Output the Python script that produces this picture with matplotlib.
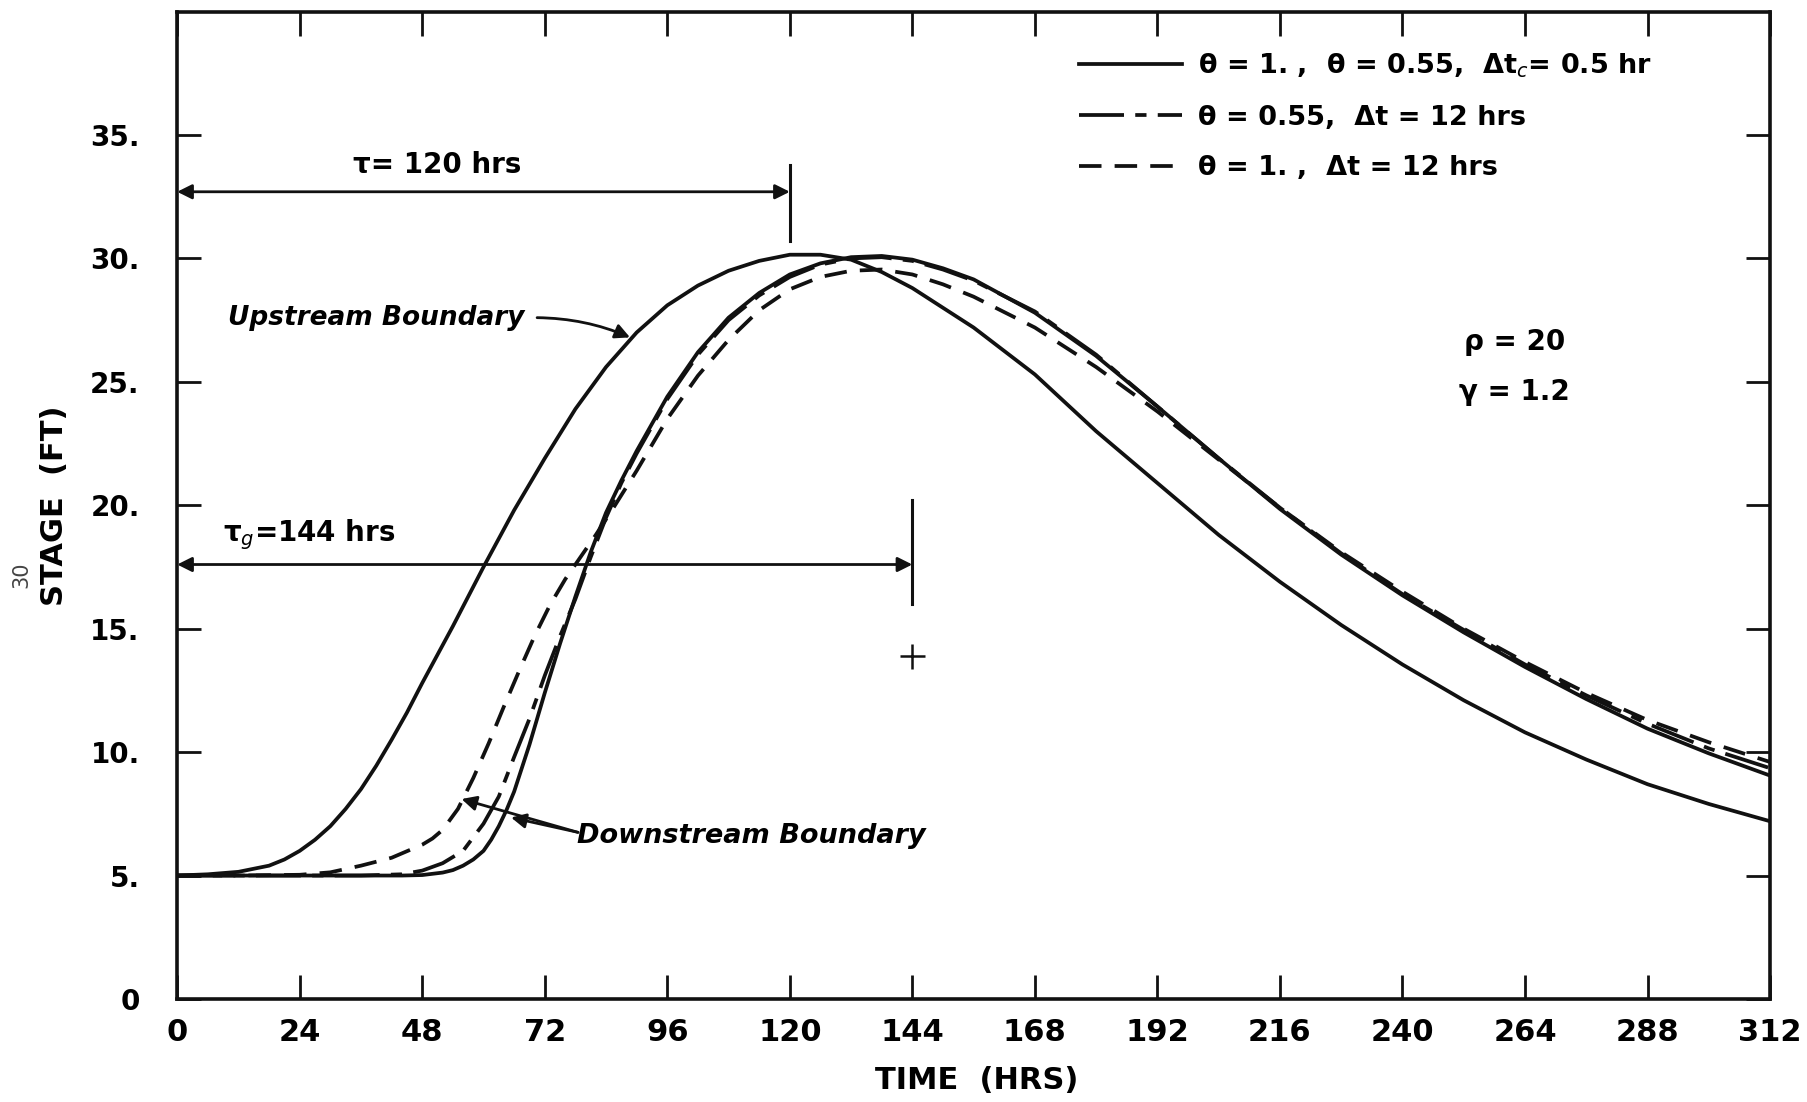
import numpy as np
import matplotlib.pyplot as plt

# stage hydrographs (time in hrs, stage in ft)
t_up = [0, 6, 12, 18, 21, 24, 27, 30, 33, 36, 39, 42, 45, 48, 54, 60, 66, 72, 78, 84,
        90, 96, 102, 108, 114, 120, 126, 132, 138, 144, 156, 168, 180, 192, 204, 216,
        228, 240, 252, 264, 276, 288, 300, 312]
stage_up = [5.0, 5.05, 5.15, 5.4, 5.65, 6.0, 6.45, 7.0, 7.7, 8.5, 9.45, 10.5, 11.6,
            12.8, 15.1, 17.5, 19.8, 21.9, 23.9, 25.6, 27.0, 28.1, 28.9, 29.5, 29.9,
            30.15, 30.15, 29.95, 29.45, 28.8, 27.2, 25.3, 23.0, 20.9, 18.8, 16.9,
            15.15, 13.55, 12.1, 10.8, 9.7, 8.7, 7.9, 7.2]

t_dn = [0, 12, 24, 36, 44, 48, 52, 54, 56, 58, 60, 61.5, 63, 64.5, 66, 69, 72, 75, 78,
        81, 84, 87, 90, 96, 102, 108, 114, 120, 126, 132, 138, 144, 150, 156, 168, 180,
        192, 204, 216, 228, 240, 252, 264, 276, 288, 300, 312]
stage_dn = [5.0, 5.0, 5.0, 5.0, 5.0, 5.02, 5.12, 5.22, 5.4, 5.65, 6.0, 6.45, 7.0, 7.65,
            8.4, 10.3, 12.4, 14.4, 16.3, 18.1, 19.7, 21.0, 22.2, 24.4, 26.2, 27.6, 28.6,
            29.35, 29.8, 30.05, 30.1, 29.95, 29.6, 29.15, 27.8, 26.05, 24.0, 21.9,
            19.85, 18.0, 16.35, 14.85, 13.45, 12.15, 10.95, 9.95, 9.05]

# theta = 0.55, dt = 12 hrs (dash-dot)
t_d55 = [0, 12, 24, 36, 44, 48, 52, 56, 60, 63, 66, 69, 72, 75, 78, 81, 84, 87, 90,
         96, 102, 108, 114, 120, 126, 132, 138, 144, 150, 156, 168, 180, 192, 204,
         216, 228, 240, 252, 264, 276, 288, 300, 312]
stage_d55 = [5.0, 5.0, 5.0, 5.0, 5.05, 5.2, 5.5, 6.0, 7.1, 8.2, 9.8, 11.35, 13.1, 14.7,
             16.2, 17.9, 19.5, 20.9, 22.1, 24.3, 26.1, 27.5, 28.5, 29.25, 29.75, 30.0,
             30.05, 29.9, 29.55, 29.1, 27.85, 26.1, 24.0, 21.9, 19.9, 18.05, 16.4,
             14.95, 13.55, 12.3, 11.15, 10.15, 9.35]

# theta = 1, dt = 12 hrs (dashed)
t_d1 = [0, 12, 24, 30, 36, 42, 48, 50, 52, 55, 58, 61, 64, 67, 70, 73, 76, 79, 82, 85,
        90, 96, 102, 108, 114, 120, 126, 132, 138, 144, 150, 156, 168, 180, 192, 204,
        216, 228, 240, 252, 264, 276, 288, 300, 312]
stage_d1 = [5.0, 5.0, 5.03, 5.13, 5.4, 5.72, 6.25, 6.5, 6.85, 7.7, 8.95, 10.35, 11.85,
            13.3, 14.7, 15.95, 17.0, 17.9, 18.8, 19.75, 21.4, 23.5, 25.25, 26.7, 27.9,
            28.75, 29.25, 29.5, 29.55, 29.35, 28.95, 28.45, 27.2, 25.6, 23.8, 21.85,
            19.9, 18.1, 16.5, 15.0, 13.65, 12.4, 11.3, 10.4, 9.6]

x_ticks = list(range(0, 313, 24))
y_ticks = [0, 5, 10, 15, 20, 25, 30, 35]
y_ticklabels = ['0', '5.', '10.', '15.', '20.', '25.', '30.', '35.']

tau = 120
tau_g = 144
tau_level = 32.7
tau_g_level = 17.6
plus_pt = (144, 13.9)

ink = '#111111'
lw = 2.7

fig = plt.figure(figsize=(18.08, 11.02), dpi=100)
ax = fig.add_axes([0.098, 0.0935, 0.881, 0.896])

l_c, = ax.plot(t_up, stage_up, color=ink, lw=lw,
               label='θ = 1. ,  θ = 0.55,  Δt$_c$= 0.5 hr')
ax.plot(t_dn, stage_dn, color=ink, lw=lw)
l55, = ax.plot(t_d55, stage_d55, color=ink, lw=lw, dashes=(12, 3, 3, 3),
               label='θ = 0.55,  Δt = 12 hrs')
l1, = ax.plot(t_d1, stage_d1, color=ink, lw=lw, dashes=(6, 3.5),
              label='θ = 1. ,  Δt = 12 hrs')

ax.set_xlim(0, 312)
ax.set_ylim(0, 40)
ax.set_xticks(x_ticks)
ax.set_xticklabels([str(v) for v in x_ticks], fontsize=22, fontweight='bold',
                   family='Liberation Sans Narrow')
ax.set_yticks(y_ticks)
ax.set_yticklabels(y_ticklabels, fontsize=20, fontweight='bold')
ax.tick_params(axis='both', direction='in', length=17, width=2, color=ink,
               top=True, right=True)
ax.tick_params(axis='x', pad=14)
ax.tick_params(axis='y', pad=27)
for s in ax.spines.values():
    s.set_linewidth(2.6)
    s.set_color(ink)

ax.set_xlabel('TIME  (HRS)', fontsize=22, fontweight='bold')
ax.xaxis.set_label_coords(0.502, -0.068)
ax.set_ylabel('STAGE  (FT)', fontsize=22, fontweight='bold')
ax.yaxis.set_label_coords(-0.068, 0.5)

# tau markers
arr = dict(arrowstyle='<|-|>', color=ink, lw=2, mutation_scale=22, shrinkA=0, shrinkB=0)
ax.annotate('', xy=(0, tau_level), xytext=(tau, tau_level), arrowprops=arr)
ax.plot([tau, tau], [30.7, 33.8], color=ink, lw=2.2)
ax.text(51, 33.2, 'τ= 120 hrs', fontsize=20, fontweight='bold', ha='center', va='bottom')

ax.annotate('', xy=(0, tau_g_level), xytext=(tau_g, tau_g_level), arrowprops=arr)
ax.plot([tau_g, tau_g], [16.0, 20.2], color=ink, lw=2.2)
ax.text(9, 18.1, 'τ$_g$=144 hrs', fontsize=20, fontweight='bold', ha='left', va='bottom')
ax.plot(*plus_pt, marker='+', color=ink, markersize=18, mew=1.8)

ax.text(39, 27.6, 'Upstream Boundary', fontsize=19, fontweight='bold', style='italic',
        ha='center', va='center')
ax.annotate('', xy=(88.7, 26.8), xytext=(70.5, 27.6),
            arrowprops=dict(arrowstyle='-|>', color=ink, lw=2, mutation_scale=22,
                            shrinkA=0, shrinkB=0, connectionstyle='arc3,rad=-0.1'))

ax.text(112.5, 6.6, 'Downstream Boundary', fontsize=19.5, fontweight='bold',
        style='italic', ha='center', va='center')
arr1 = dict(arrowstyle='-|>', color=ink, lw=2, mutation_scale=22, shrinkA=0, shrinkB=0)
ax.annotate('', xy=(55.7, 8.1), xytext=(78.5, 6.75), arrowprops=arr1)
ax.annotate('', xy=(65.4, 7.35), xytext=(78.5, 6.75), arrowprops=arr1)

ax.text(262, 26.6, 'ρ = 20', fontsize=20, fontweight='bold', ha='center', va='center')
ax.text(262, 24.6, 'γ = 1.2', fontsize=20, fontweight='bold', ha='center', va='center')

leg = ax.legend(handles=[l_c, l55, l1], loc='upper left',
                bbox_to_anchor=(0.551, 0.984), frameon=False, fontsize=19.5,
                handlelength=3.8, handletextpad=0.6, labelspacing=0.9)
for txt in leg.get_texts():
    txt.set_fontweight('bold')

fig.text(0.012, 0.478, '30', fontsize=15, rotation=90, color='#444444',
         ha='center', va='center')

fig.savefig('out.png', dpi=100, facecolor='white')
